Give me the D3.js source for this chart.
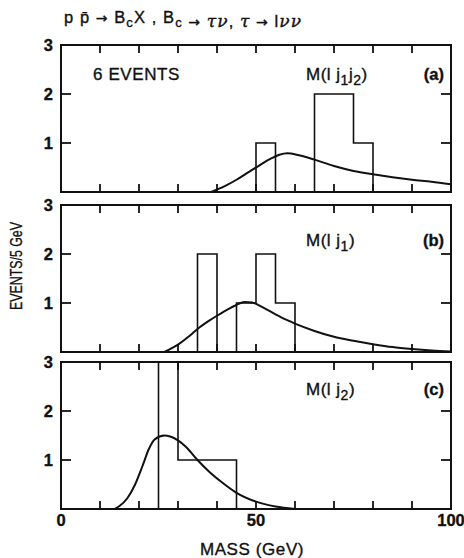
<!DOCTYPE html>
<html>
<head>
<meta charset="utf-8">
<script src="https://cdn.jsdelivr.net/npm/d3@7"></script>
<style>
  body { margin: 0; background: #fff; }
  svg text { font-family: "Liberation Sans", Arial, sans-serif; fill: #111; stroke: #111; stroke-width: 0.35; }
  .frame { fill: none; stroke: #111; stroke-width: 2; }
  .hist { fill: none; stroke: #111; stroke-width: 1.6; }
  .curve { fill: none; stroke: #111; stroke-width: 2; }
  .tick { stroke: #111; stroke-width: 1.8; }
</style>
</head>
<body>
<svg id="chart" width="464" height="558"></svg>
<script>
// 5 GeV bins from 0 to 100 GeV
var binWidth = 5;
var xTicks = [0, 10, 20, 30, 40, 50, 60, 70, 80, 90, 100];
var xTickLabels = [0, 50, 100];
var yTicks = [1, 2];
var yTickLabels = [1, 2, 3];

// events per bin (20 bins)
var countsA = [0,0,0,0,0,0,0,0,0,0, 1,0,0,2,2,1,0,0,0,0];
var countsB = [0,0,0,0,0,0,0,2,0,1, 2,1,0,0,0,0,0,0,0,0];
var countsC = [0,0,0,0,0,3,1,1,1,0, 0,0,0,0,0,0,0,0,0,0];

// expected distributions, [mass, events]
var curveA = [[38.5,0],[42,0.12],[45,0.25],[48,0.4],[51,0.55],[54,0.69],[56,0.76],[58,0.79],[61,0.75],[65,0.66],[70,0.53],[75,0.43],[80,0.36],[85,0.3],[90,0.25],[95,0.21],[100,0.16]];
var curveB = [[26.5,0],[30,0.15],[33,0.33],[35,0.47],[38,0.64],[40,0.74],[43,0.88],[45,0.96],[47,1.02],[49,1.01],[52,0.9],[55,0.77],[58,0.65],[60,0.58],[65,0.43],[70,0.31],[75,0.23],[80,0.16],[85,0.1],[90,0.06],[95,0.03],[100,0.01]];
var curveC = [[13.8,0],[15,0.06],[17,0.22],[19,0.5],[21,0.9],[22.5,1.22],[24,1.42],[26.5,1.5],[28,1.48],[30,1.4],[32,1.27],[35,1.0],[38,0.76],[41,0.56],[45,0.33],[50,0.15],[55,0.05],[60,0.0]];

var panelLetters = ["(a)", "(b)", "(c)"];

var svg = d3.select("#chart");
var x0 = 61, x1 = 451;
var panelTops = [45, 205, 362];
var panelH = 147;

var x = d3.scaleLinear().domain([0, 100]).range([x0, x1]);

function histPath(counts, y) {
    // one outline path for every run of filled bins
    var d = "";
    var line = d3.line().x(function(p) { return x(p[0]); }).y(function(p) { return y(p[1]); });
    var run = [];
    counts.forEach(function(c, i) {
        if (c > 0) {
            if (run.length == 0) run.push([i * binWidth, 0]);
            run.push([i * binWidth, c]);
            run.push([(i + 1) * binWidth, c]);
        }
        if ((c == 0 || i == counts.length - 1) && run.length > 0) {
            var last = run[run.length - 1];
            run.push([last[0], 0]);
            d += line(run);
            run = [];
        }
    });
    return d;
}

function drawPanel(i, counts, curve, labelParts) {
    var top = panelTops[i];
    var y = d3.scaleLinear().domain([0, 3]).range([top + panelH, top]);
    var g = svg.append("g");

    // histogram
    g.append("path").attr("class", "hist").attr("d", histPath(counts, y));

    // expected curve
    var curveLine = d3.line()
        .x(function(d) { return x(d[0]); })
        .y(function(d) { return y(d[1]); })
        .curve(d3.curveMonotoneX);
    g.append("path").attr("class", "curve").attr("d", curveLine(curve));

    // frame
    g.append("rect").attr("class", "frame")
        .attr("x", x0).attr("y", top).attr("width", x1 - x0).attr("height", panelH);

    // ticks in, top and bottom
    xTicks.slice(1, -1).forEach(function(t) {
        g.append("line").attr("class", "tick")
            .attr("x1", x(t)).attr("x2", x(t)).attr("y1", top + panelH).attr("y2", top + panelH - 8);
        g.append("line").attr("class", "tick")
            .attr("x1", x(t)).attr("x2", x(t)).attr("y1", top).attr("y2", top + 8);
    });
    yTicks.forEach(function(t) {
        g.append("line").attr("class", "tick")
            .attr("x1", x0).attr("x2", x0 + 10).attr("y1", y(t)).attr("y2", y(t));
        g.append("line").attr("class", "tick")
            .attr("x1", x1).attr("x2", x1 - 10).attr("y1", y(t)).attr("y2", y(t));
    });
    yTickLabels.forEach(function(t) {
        g.append("text").attr("x", 53).attr("y", y(t) + 6)
            .attr("text-anchor", "end").attr("font-size", 16.5).attr("font-weight", "bold")
            .text(t);
    });

    // mass label with subscripts
    var lab = g.append("text").attr("x", 306).attr("y", top + labelParts.dy)
        .attr("font-size", 17).attr("letter-spacing", 0.5);
    labelParts.parts.forEach(function(p) {
        var ts = lab.append("tspan").text(p[0]);
        if (p[1]) ts.attr("dy", 5).attr("font-size", 14);
        else if (p[2]) ts.attr("dy", -5);
    });

    g.append("text").attr("x", 444).attr("y", top + labelParts.dy)
        .attr("text-anchor", "end").attr("font-size", 16.5).attr("font-weight", "bold")
        .text(panelLetters[i]);
    return y;
}

drawPanel(0, countsA, curveA, {dy: 35, parts: [["M(l j"], ["1", true], ["j", false, true], ["2", true], [")", false, true]]});
drawPanel(1, countsB, curveB, {dy: 41, parts: [["M(l j"], ["1", true], [")", false, true]]});
drawPanel(2, countsC, curveC, {dy: 33, parts: [["M(l j"], ["2", true], [")", false, true]]});

svg.append("text").attr("x", 93).attr("y", 80).attr("font-size", 17).attr("letter-spacing", 0.6)
    .text("6  EVENTS");

// x tick labels under bottom panel
xTickLabels.forEach(function(t) {
    svg.append("text").attr("x", x(t)).attr("y", 526)
        .attr("text-anchor", "middle").attr("font-size", 16.5).attr("font-weight", "bold")
        .text(t);
});

svg.append("text").attr("x", 252).attr("y", 555)
    .attr("text-anchor", "middle").attr("font-size", 17).attr("letter-spacing", 0.6)
    .text("MASS  (GeV)");

svg.append("text")
    .attr("transform", "translate(22,266) rotate(-90)")
    .attr("text-anchor", "middle").attr("font-size", 17)
    .attr("textLength", 88).attr("lengthAdjust", "spacingAndGlyphs")
    .text("EVENTS/5 GeV");

// title
var title = svg.append("text").attr("x", 64).attr("y", 23).attr("font-size", 16.5).attr("letter-spacing", 1.1);
function arrow() {
    title.append("tspan").attr("font-family", "DejaVu Sans").attr("font-size", 14).text(" \u2192 ");
}
function greek(s) {
    title.append("tspan").attr("font-family", "DejaVu Serif").attr("font-style", "italic").attr("font-size", 17).text(s);
}
title.append("tspan").text("p p\u0304");
arrow();
title.append("tspan").text("B");
title.append("tspan").attr("dy", 4).attr("font-size", 13).text("c");
title.append("tspan").attr("dy", -4).text("X ,  B");
title.append("tspan").attr("dy", 4).attr("font-size", 13).text("c");
title.append("tspan").attr("dy", -4).text("");
arrow();
greek("\u03c4\u03bd");
title.append("tspan").text(",  ");
greek("\u03c4");
arrow();
title.append("tspan").text("l");
greek("\u03bd\u03bd");
</script>
</body>
</html>
